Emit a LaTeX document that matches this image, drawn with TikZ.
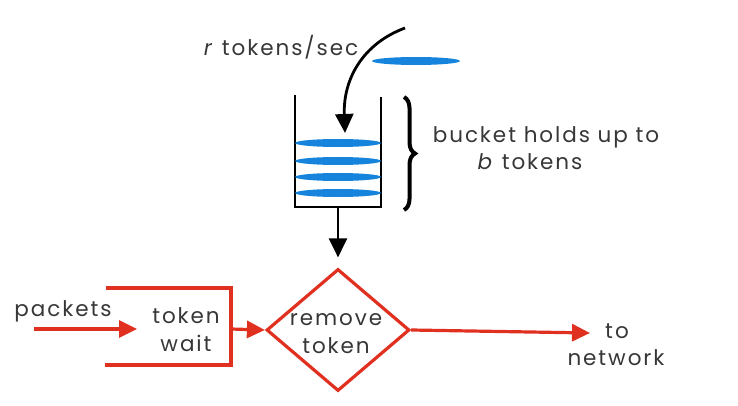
\documentclass[tikz,border=0pt]{standalone}
\usepackage{fontspec}
\setmainfont{Poppins}[LetterSpace=9]
\usetikzlibrary{arrows.meta,shapes.geometric,decorations.pathreplacing}
\definecolor{tokblue}{RGB}{22,132,220}
\definecolor{pktred}{RGB}{224,48,32}
\definecolor{txt}{RGB}{55,55,55}
\begin{document}
\begin{tikzpicture}[x=1pt,y=-1pt,
  lbl/.style={text=txt,font=\fontsize{21.5}{28}\selectfont,inner sep=0,anchor=base},
  token/.style={fill=tokblue,draw=none,ellipse,minimum width=86,minimum height=8,inner sep=0},
  bk/.style={draw=black,line width=2.8},
  rd/.style={draw=pktred,line width=3.2},
  rdarrow/.style={rd,-{Triangle[length=18,width=17]},fill=none},
  bkarrow/.style={bk,-{Triangle[length=19,width=18]}}
]
\useasboundingbox (0,0) rectangle (738,406);
% bucket
\coordinate (bl) at (295,95);
\coordinate (blb) at (295,207);
\coordinate (brb) at (381,207);
\coordinate (br) at (381,97);
\draw[bk] (bl) -- (blb) -- (brb) -- (br);
\coordinate (bbot) at (338,207);
% tokens in bucket
\node[token] (t1) at (338,143) {};
\node[token] (t2) at (338,161) {};
\node[token] (t3) at (338,177) {};
\node[token] (t4) at (338,193) {};
% falling token
\node[token,minimum width=88] (t0) at (416,61) {};
% curved arrow
\coordinate (cstart) at (405,28);
\coordinate (cend) at (345,133);
\draw[bkarrow] (cstart) .. controls (362,44) and (343,80) .. (cend);
\node[lbl] (rate) at (281,56) {\textit{r} tokens/sec};
% brace
\coordinate (brt) at (404,97);
\coordinate (brbo) at (404,210);
\draw[bk,line width=4,decorate,decoration={brace,amplitude=11}] (brt) -- (brbo);
\node[lbl] (cap1) at (546,143) {bucket holds up to};
\node[lbl] (cap2) at (530,170) {\textit{b} tokens};
% diamond
\node[diamond,rd,minimum width=143,minimum height=122,inner sep=0] (rm) at (338,330) {};
\node[lbl] (rmt1) at (336,325) {remove};
\node[lbl] (rmt2) at (336,353) {token};
% arrow bucket -> diamond
\draw[bkarrow,shorten >=10] (bbot) -- (rm.north);
% token wait box
\coordinate (wtl) at (106,288);
\coordinate (wtr) at (231,288);
\coordinate (wbr) at (231,365);
\coordinate (wbl) at (105,365);
\draw[rd] (wtl) -- (wtr) -- (wbr) -- (wbl);
\node[lbl] (wait1) at (186,323) {token};
\node[lbl] (wait2) at (186,351) {wait};
\coordinate (wout) at (231,329);
\draw[rdarrow] (wout) -- (rm.west);
% packets
\coordinate (pin) at (34,329);
\coordinate (pend) at (137,329);
\draw[rdarrow] (pin) -- (pend);
\node[lbl] (pk) at (63,316) {packets};
% to network
\coordinate (net) at (590,333);
\draw[rdarrow] (rm.east) -- (net);
\node[lbl] (nt1) at (617,338) {to};
\node[lbl] (nt2) at (616,365) {network};
\end{tikzpicture}
\end{document}
